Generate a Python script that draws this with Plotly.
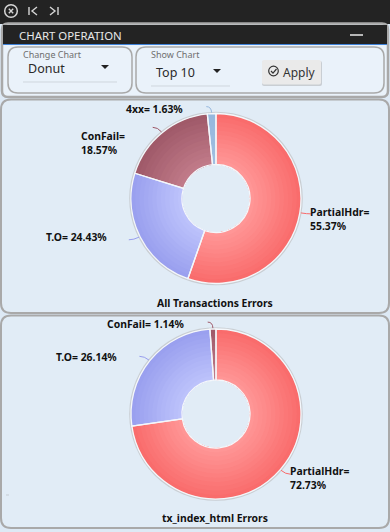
import math
import plotly.graph_objects as go

W, H = 390, 532

# ---- data ----
names_all = ["PartialHdr", "T.O", "ConFail", "4xx"]
values_all = [55.37, 24.43, 18.57, 1.63]
names_tx = ["PartialHdr", "T.O", "ConFail"]
values_tx = [72.73, 26.14, 1.14]
title_all = "All Transactions Errors"
title_tx = "tx_index_html Errors"

# ---- style: inner / outer colour of each slice ----
GRAD = {
    "PartialHdr": ((255, 152, 152), (249, 106, 106)),
    "T.O": ((190, 196, 252), (152, 158, 238)),
    "ConFail": ((194, 124, 138), (158, 88, 104)),
    "4xx": ((160, 190, 224), (150, 184, 222)),
}
LABELFONT = dict(family="Noto Sans", size=10.4, color="#111", weight=700)
UI = "Noto Sans"
GREY = "#a9a9a9"
PANEL = "#e1ecf6"


def rrect(x0, y0, x1, y1, r):
    return (f"M{x0+r},{y0} H{x1-r} Q{x1},{y0} {x1},{y0+r} V{y1-r} Q{x1},{y1} {x1-r},{y1} "
            f"H{x0+r} Q{x0},{y1} {x0},{y1-r} V{y0+r} Q{x0},{y0} {x0+r},{y0} Z")


shapes, annos, traces = [], [], []


def path(d, fill="rgba(0,0,0,0)", line=None, w=1):
    shapes.append(dict(type="path", path=d, xref="x", yref="y", fillcolor=fill, layer="below",
                       line=dict(color=line or "rgba(0,0,0,0)", width=w if line else 0)))


def circle(cx, cy, r, fill="rgba(0,0,0,0)", line=None, w=1):
    shapes.append(dict(type="circle", xref="x", yref="y", x0=cx-r, x1=cx+r, y0=cy-r, y1=cy+r,
                       fillcolor=fill, layer="below",
                       line=dict(color=line or "rgba(0,0,0,0)", width=w if line else 0)))


def text(x, y, s, font, anchor="left"):
    annos.append(dict(x=x, y=y, xref="x", yref="y", text=s, showarrow=False, xanchor=anchor,
                      yanchor="middle", align=anchor, font=font, borderpad=0, borderwidth=0))


def mix(a, b, t):
    return "rgb(%d,%d,%d)" % tuple(round(a[i] + (b[i] - a[i]) * t) for i in range(3))


def donut(names, values, cx, cy, R=85, hole=0.4, rings=12):
    r0 = R * hole
    # soft halo behind the ring and around the inner hole
    circle(cx, cy, R + 1.8, fill="#c9ced3")
    circle(cx, cy, r0 - 0.2, fill=PANEL)
    for k in range(rings, 0, -1):
        r = r0 + (R - r0) * k / rings
        t = (k - 0.5) / rings
        traces.append(go.Pie(
            labels=names, values=values, sort=False, direction="clockwise", rotation=0,
            hole=r0 / r, textinfo="none", hoverinfo="skip", showlegend=False,
            marker=dict(colors=[mix(*GRAD[n], t) for n in names], line=dict(width=0)),
            domain=dict(x=[(cx - r) / W, (cx + r) / W], y=[1 - (cy + r) / H, 1 - (cy - r) / H]),
        ))
    traces.append(go.Pie(
        labels=names, values=values, sort=False, direction="clockwise", rotation=0,
        hole=hole, textinfo="none", hoverinfo="skip", showlegend=False,
        marker=dict(colors=["rgba(0,0,0,0)"] * len(names), line=dict(color="#f4f7fb", width=1.3)),
        domain=dict(x=[(cx - R) / W, (cx + R) / W], y=[1 - (cy + R) / H, 1 - (cy - R) / H]),
    ))
    # leader lines from the middle angle of each slice
    total = sum(values)
    acc = 0
    for n, v in zip(names, values):
        mid = (acc + v / 2) / total * 2 * math.pi
        acc += v
        sx, cs = math.sin(mid), -math.cos(mid)
        x0, y0 = cx + sx * (R + 1), cy + cs * (R + 1)
        x1, y1 = cx + sx * (R + 7), cy + cs * (R + 7)
        hx = x1 + (5 if sx > 0 else -5)
        c = mix(*GRAD[n], 1)
        shapes.append(dict(type="path", xref="x", yref="y", layer="above",
                           path=f"M{x0:.1f},{y0:.1f} Q{x1:.1f},{y1:.1f} {hx:.1f},{y1:.1f}",
                           line=dict(color=c, width=1), fillcolor="rgba(0,0,0,0)"))


# ---- page chrome ----
path(f"M0,0 H{W} V{H} H0 Z", fill="#dde9f5")
path(f"M0,0 H{W} V24 H0 Z", fill="#232323")
circle(11, 11, 6.3, line="#d6d6d6", w=1.5)
path("M8.8,8.8 L13.2,13.2 M13.2,8.8 L8.8,13.2", line="#d6d6d6", w=1.4)
path("M29,7 V15 M37,7 L32,11 L37,15", line="#d6d6d6", w=1.4)
path("M58,7 V15 M50,7 L55,11 L50,15", line="#d6d6d6", w=1.4)

path(rrect(2, 23.5, 388, 97, 6), fill="#eaf2fa", line=GREY, w=2.5)
path("M3,25 H387 V44 H3 Z", fill="#232323")
path("M3,44.5 H387", line="#3f82d8", w=1)
text(19, 35, "CHART OPERATION", dict(family=UI, size=11.4, color="#e8e8e8"))
path("M350,35 H363", line="#e8e8e8", w=1.5)

path(rrect(8, 47, 132, 93, 10), fill="#eaf2fa", line=GREY, w=1.5)
path(rrect(136, 47, 384, 93, 10), fill="#eaf2fa", line=GREY, w=1.5)
text(23, 54, "Change Chart", dict(family=UI, size=9, color="#6f6f6f"))
text(28, 68, "Donut", dict(family=UI, size=12.5, color="#2a2a2a"))
path("M23,82 H117", line="#cfd6dd", w=1)
path("M101,65 H109 L105,69 Z", fill="#222")
text(151, 54, "Show Chart", dict(family=UI, size=9, color="#6f6f6f"))
text(156, 72, "Top 10", dict(family=UI, size=12.5, color="#2a2a2a"))
path("M151,86 H230", line="#cfd6dd", w=1)
path("M213,69 H221 L217,73 Z", fill="#222")
path(rrect(262, 61, 322, 86, 2), fill="#c9ced3")
path(rrect(262, 60, 321, 84.5, 2), fill="#eaeaea")
circle(273.5, 71, 4.8, line="#333", w=1.2)
path("M271,71 L273,73.2 L276.5,69", line="#333", w=1.2)
text(283, 72, "Apply", dict(family=UI, size=12, color="#333"))

# ---- chart panels ----
path(rrect(1, 99.5, 389, 313, 10), fill=PANEL, line=GREY, w=2)
path(rrect(1, 315.5, 389, 528, 10), fill=PANEL, line=GREY, w=2)
path("M6,495 H9", line="#c5ccd3", w=1)

donut(names_all, values_all, 216, 198.5)
donut(names_tx, values_tx, 216, 414)

# ---- labels ----
lab = lambda n, v: f"{n}= {v:.2f}%"
lab2 = lambda n, v: f"{n}=<br>{v:.2f}%"
text(126, 109, lab(names_all[3], values_all[3]), LABELFONT)
text(81, 143, lab2(names_all[2], values_all[2]), LABELFONT)
text(46, 237, lab(names_all[1], values_all[1]), LABELFONT)
text(310, 219, lab2(names_all[0], values_all[0]), LABELFONT)
text(215, 303, title_all, LABELFONT, "center")
text(107, 324, lab(names_tx[2], values_tx[2]), LABELFONT)
text(56, 357, lab(names_tx[1], values_tx[1]), LABELFONT)
text(290, 478, lab2(names_tx[0], values_tx[0]), LABELFONT)
text(215, 518, title_tx, LABELFONT, "center")

traces.insert(0, go.Scatter(x=[], y=[], hoverinfo="skip", showlegend=False))
fig = go.Figure(traces)
fig.update_layout(
    width=W, height=H, margin=dict(l=0, r=0, t=0, b=0), showlegend=False,
    paper_bgcolor="#dde9f5", plot_bgcolor="rgba(0,0,0,0)",
    xaxis=dict(range=[0, W], visible=False, fixedrange=True),
    yaxis=dict(range=[H, 0], visible=False, fixedrange=True),
    shapes=shapes, annotations=annos,
)
fig.write_html("out.html", config=dict(displayModeBar=False),
               post_script="document.body.style.margin='0';document.body.style.overflow='hidden';")
